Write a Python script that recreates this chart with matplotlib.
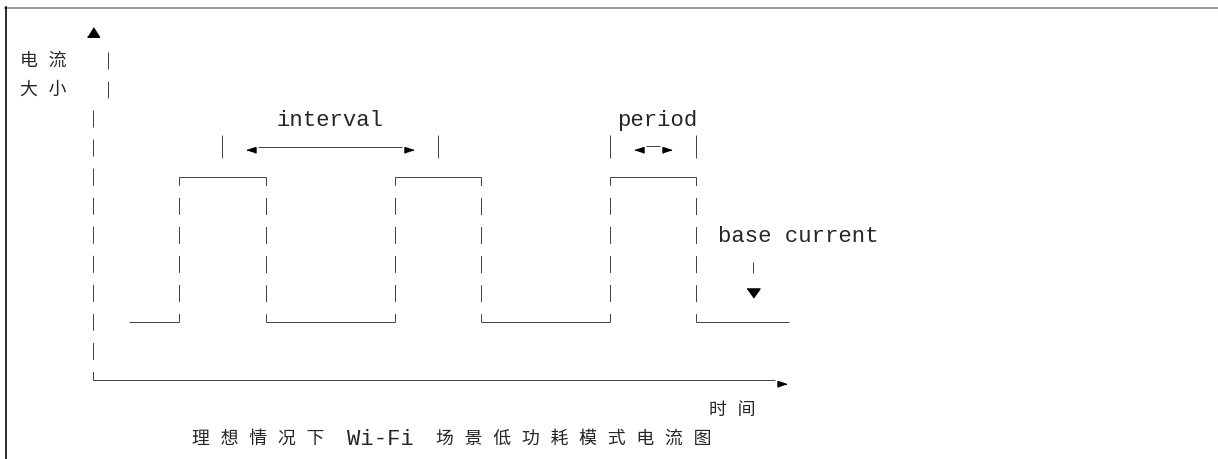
import matplotlib
matplotlib.use("Agg")
import matplotlib.pyplot as plt
from matplotlib.lines import Line2D

plt.rcParams["lines.scale_dashes"] = False

# ---------------- data (time in character columns, state 0 = base current, 1 = active) ----------------
wave_time = [2.5, 6, 6, 12, 12, 21, 21, 27, 27, 36, 36, 42, 42, 48.5]
wave_state = [0, 0, 1, 1, 0, 0, 1, 1, 0, 0, 1, 1, 0, 0]
axis_time_end = 48
y_label_lines = ["电 流", "大 小"]
x_label = "时 间"
title_parts = ["理 想 情 况 下", "Wi-Fi", "场 景 低 功 耗 模 式 电 流 图"]
interval_label = "interval"
period_label = "period"
base_label = "base current"

# ---------------- layout helpers ----------------
W, H, DPI = 1218, 459, 100
PX_COL = 14.35          # pixels per character column
PX_ROW = 29.05          # pixels per text row
X0_PX, Y0_PX = 93.3, 31.5
PT = 72.0 / DPI         # points per pixel

LOW_ROW, HIGH_ROW = 10, 5
AXIS_ROW = 12

def state_row(s):
    return LOW_ROW - (LOW_ROW - HIGH_ROW) * s

def rows(px):
    return px / PX_ROW

LINE_C = "#444444"
TEXT_C = "#262626"
LW = 1.0 * PT
DASH = (8.5 * PT, (17 * PT, 12.05 * PT))
DASH_FULL = (0, (17 * PT, 12.05 * PT))

MONO = ["Liberation Mono", "DejaVu Sans Mono"]
CJK = ["Liberation Mono", "Noto Sans CJK SC", "DejaVu Sans"]
MONO_FS = 16

fig = plt.figure(figsize=(W / DPI, H / DPI), dpi=DPI)
ax = fig.add_axes([0, 0, 1, 1])
ax.set_xlim((0 - X0_PX) / PX_COL, (W - X0_PX) / PX_COL)
ax.set_ylim((H - Y0_PX) / PX_ROW, (0 - Y0_PX) / PX_ROW)
ax.axis("off")

# ---------------- waveform ----------------
for i in range(len(wave_time) - 1):
    t0, t1 = wave_time[i], wave_time[i + 1]
    r0, r1 = state_row(wave_state[i]), state_row(wave_state[i + 1])
    if t0 == t1:
        ax.plot([t0, t1], [r0, r1], color=LINE_C, lw=LW, linestyle=DASH)
    else:
        ax.plot([t0, t1], [r0, r1], color=LINE_C, lw=LW, solid_capstyle="butt")

# ---------------- axes drawn as in the ASCII sketch ----------------
ax.plot([0, axis_time_end - 0.5], [AXIS_ROW, AXIS_ROW], color=LINE_C, lw=LW, solid_capstyle="butt")
ax.plot([0, 0], [AXIS_ROW, 3 - rows(8.5)], color=LINE_C, lw=LW, linestyle=DASH)
ax.plot([1, 1], [1 - rows(8.5), 2 + rows(8.5)], color=LINE_C, lw=LW, linestyle=DASH_FULL)

tri_up = [(-1, -0.8), (1, -0.8), (0, 0.8)]
tri_down = [(-1, 0.7), (1, 0.7), (0, -0.7)]
tri_right = [(-1, -0.65), (-1, 0.65), (1, 0)]
tri_left = [(1, -0.65), (1, 0.65), (-1, 0)]

ax.plot([0], [rows(32 - Y0_PX)], marker=tri_up, ms=12 * PT, color="black", ls="none")
ax.plot([axis_time_end], [rows(384 - Y0_PX)], marker=tri_right, ms=9 * PT, color="black", ls="none")

# ---------------- interval / period annotations ----------------
rises = [wave_time[i] for i in range(len(wave_time) - 1)
         if wave_time[i] == wave_time[i + 1] and wave_state[i + 1] == 1]
falls = [wave_time[i] for i in range(len(wave_time) - 1)
         if wave_time[i] == wave_time[i + 1] and wave_state[i + 1] == 0]

mark_row = rows(146.7 - Y0_PX)
mark_half = rows(11.5)
arrow_row = rows(150.5 - Y0_PX)

c1 = (rises[0] + falls[0]) / 2
c2 = (rises[1] + falls[1]) / 2
for xm in [c1, c2, rises[2], falls[2]]:
    ax.plot([xm, xm], [mark_row - mark_half, mark_row + mark_half], color=LINE_C, lw=LW,
            solid_capstyle="butt")

# interval arrow
ax.plot([c1 + 2.5, c2 - 2.5], [mark_row, mark_row], color=LINE_C, lw=LW, solid_capstyle="butt")
ax.plot([c1 + 2], [arrow_row], marker=tri_left, ms=9 * PT, color="black", ls="none")
ax.plot([c2 - 2], [arrow_row], marker=tri_right, ms=9 * PT, color="black", ls="none")
ax.text((c1 + c2) / 2, 3.05, interval_label, ha="center", va="center",
        family=MONO, fontsize=MONO_FS, color=TEXT_C)

# period arrow
p0, p1 = rises[2], falls[2]
ax.plot([p0 + 2.5, p1 - 2.5], [rows(146 - Y0_PX)] * 2, color=LINE_C, lw=LW, solid_capstyle="butt")
ax.plot([p0 + 2], [arrow_row], marker=tri_left, ms=9 * PT, color="black", ls="none")
ax.plot([p1 - 2], [arrow_row], marker=tri_right, ms=9 * PT, color="black", ls="none")
ax.text(p0 + 0.5, 3.05, period_label, ha="left", va="center",
        family=MONO, fontsize=MONO_FS, color=TEXT_C)

# base current
bx = p1 + 4
ax.text(p1 + 1.5, 7.05, base_label, ha="left", va="center", family=MONO, fontsize=MONO_FS,
        color=TEXT_C)
ax.plot([bx, bx], [rows(261.7 - Y0_PX), rows(273.3 - Y0_PX)], color=LINE_C, lw=LW,
        solid_capstyle="butt")
ax.plot([bx], [9], marker=tri_down, ms=13 * PT, color="black", ls="none")

# ---------------- CJK labels ----------------
CJK_FS = 17.9 * PT
for k, lab in enumerate(y_label_lines):
    ax.text(-3.5, 1.02 + k, lab, ha="center", va="center", family=CJK, fontsize=CJK_FS, color=TEXT_C)
ax.text(axis_time_end - 3.5, 13.05, x_label, ha="center", va="center", family=CJK,
        fontsize=CJK_FS, color=TEXT_C)

ax.text(11.5, 14.05, title_parts[0], ha="center", va="center", family=CJK, fontsize=CJK_FS,
        color=TEXT_C)
ax.text(20, 14.05, title_parts[1], ha="center", va="center", family=MONO, fontsize=MONO_FS,
        color=TEXT_C)
ax.text(33.5, 14.05, title_parts[2], ha="center", va="center", family=CJK, fontsize=CJK_FS,
        color=TEXT_C)

# ---------------- frame edges ----------------
fig.add_artist(Line2D([5 / W, 1], [1 - 7.5 / H] * 2, transform=fig.transFigure,
                      color="#808080", lw=1.6 * PT))
fig.add_artist(Line2D([6 / W] * 2, [0, 1 - 6.5 / H], transform=fig.transFigure,
                      color="black", lw=1.6 * PT))

fig.savefig("out.png", dpi=DPI, facecolor="white")
